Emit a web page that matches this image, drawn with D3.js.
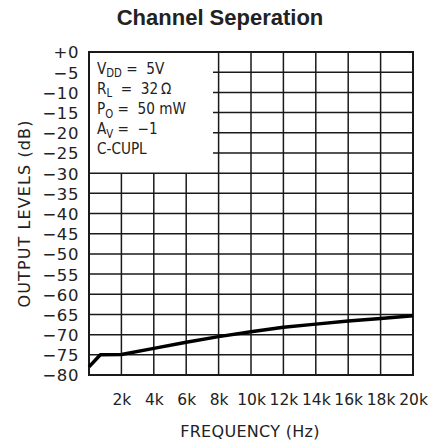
<!DOCTYPE html>
<html>
<head>
<meta charset="utf-8">
<script src="https://cdn.jsdelivr.net/npm/d3@7"></script>
<style>
  html, body { margin: 0; padding: 0; background: #fff; }
  svg { display: block; }
</style>
</head>
<body>
<div id="chart"></div>
<script>
// ---- data ----
const frequencyHz = [0, 700, 2000, 4000, 6000, 8000, 10000, 12000, 14000, 16000, 18000, 20000];
const outputDb    = [-78, -75, -74.9, -73.4, -71.9, -70.5, -69.3, -68.2, -67.4, -66.6, -66.0, -65.3];
const xTickValues = [2000, 4000, 6000, 8000, 10000, 12000, 14000, 16000, 18000, 20000];
const xTickLabels = ["2k", "4k", "6k", "8k", "10k", "12k", "14k", "16k", "18k", "20k"];
const yTickValues = [0, -5, -10, -15, -20, -25, -30, -35, -40, -45, -50, -55, -60, -65, -70, -75, -80];
const yTickLabels = ["+0", "\u22125", "\u221210", "\u221215", "\u221220", "\u221225", "\u221230", "\u221235", "\u221240", "\u221245", "\u221250", "\u221255", "\u221260", "\u221265", "\u221270", "\u221275", "\u221280"];
const conditions = [
  { main: "V", sub: "DD", rest: " =  5V" },
  { main: "R", sub: "L", rest: "  =  32\u2009\u2126" },
  { main: "P", sub: "O", rest: " =  50 mW" },
  { main: "A", sub: "V", rest: " =  \u22121" },
  { main: "C-CUPL", sub: "", rest: "" }
];
const title = "Channel Seperation";
const xTitle = "FREQUENCY (Hz)";
const yTitle = "OUTPUT LEVELS (dB)";

// ---- layout ----
const W = 429, H = 446;
const m = { left: 89, top: 52, right: 16, bottom: 71 };
const pw = W - m.left - m.right, ph = H - m.top - m.bottom;
const font = "'DejaVu Sans', sans-serif";
const ink = "#222";

const svg = d3.select("#chart").append("svg").attr("width", W).attr("height", H);
const x = d3.scaleLinear().domain([0, 20000]).range([m.left, m.left + pw]);
const y = d3.scaleLinear().domain([-80, 0]).range([m.top + ph, m.top]);

// title
svg.append("text").attr("x", 220).attr("y", 25).attr("text-anchor", "middle")
  .attr("font-family", "'Liberation Sans', Arial, sans-serif").attr("font-weight", "bold")
  .attr("font-size", 22).attr("fill", "#222").text(title);

const g = svg.append("g");
const gridColor = "#1a1a1a";
const boxRight = 213;
// horizontal grid
yTickValues.forEach(v => {
  const inBox = v < 0 && v > -30;
  g.append("line").attr("x1", inBox ? boxRight : x(0)).attr("x2", x(20000))
    .attr("y1", y(v)).attr("y2", y(v)).attr("stroke", gridColor).attr("stroke-width", 1.5);
});
// vertical grid
xTickValues.forEach(v => {
  const top = x(v) < boxRight ? y(-30) : y(0);
  g.append("line").attr("x1", x(v)).attr("x2", x(v)).attr("y1", top).attr("y2", y(-80))
    .attr("stroke", gridColor).attr("stroke-width", 1.5);
});
// frame
g.append("rect").attr("x", x(0)).attr("y", y(0)).attr("width", pw).attr("height", ph)
  .attr("fill", "none").attr("stroke", gridColor).attr("stroke-width", 2);

// y tick labels
const yAxis = d3.axisLeft(y).tickValues(yTickValues).tickSize(0).tickPadding(10)
  .tickFormat((d, i) => yTickLabels[i]);
const ya = svg.append("g").attr("transform", `translate(${x(0)},0)`).call(yAxis);
ya.select(".domain").remove();
ya.selectAll("text").attr("font-family", font).attr("font-size", 16.5).attr("fill", ink)
  .attr("letter-spacing", 0.6).attr("dy", "0.36em");

// x tick labels
const xAxis = d3.axisBottom(x).tickValues(xTickValues).tickSize(0).tickPadding(19)
  .tickFormat((d, i) => xTickLabels[i]);
const xa = svg.append("g").attr("transform", `translate(0,${y(-80)})`).call(xAxis);
xa.select(".domain").remove();
xa.selectAll("text").attr("font-family", font).attr("font-size", 15.5).attr("fill", ink);

// curve
const line = d3.line().x((d, i) => x(frequencyHz[i])).y(d => y(d));
svg.append("path").datum(outputDb).attr("d", line).attr("fill", "none")
  .attr("stroke", "#000").attr("stroke-width", 3.5).attr("stroke-linejoin", "round");

// conditions box text
const cx0 = 97, sx = 0.88;
conditions.forEach((c, i) => {
  const t = svg.append("text").attr("x", cx0 / sx).attr("y", y(-5 * (i + 1)) + 1.5)
    .attr("transform", `scale(${sx},1)`)
    .attr("font-family", font).attr("font-size", 15.5).attr("fill", ink)
    .attr("xml:space", "preserve").style("white-space", "pre");
  t.append("tspan").text(c.main);
  if (c.sub) t.append("tspan").attr("dy", 3.5).attr("font-size", 11.5).text(c.sub);
  if (c.rest) t.append("tspan").attr("dy", c.sub ? -3.5 : 0).text(c.rest);
});

// axis titles
svg.append("text").attr("x", 250).attr("y", 437).attr("text-anchor", "middle")
  .attr("font-family", font).attr("font-size", 16).attr("fill", ink)
  .attr("letter-spacing", 0.3).text(xTitle);
svg.append("text").attr("transform", "translate(30,213.5) rotate(-90)").attr("text-anchor", "middle")
  .attr("font-family", font).attr("font-size", 16).attr("fill", ink)
  .attr("letter-spacing", 1.1).text(yTitle);
</script>
</body>
</html>
